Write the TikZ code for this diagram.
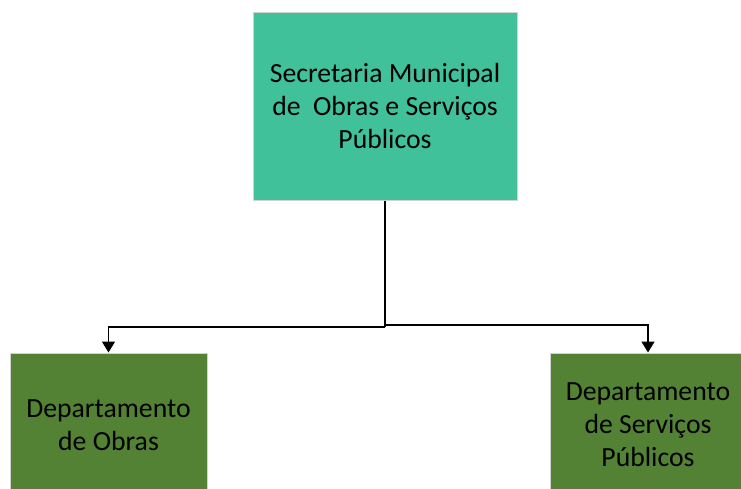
\documentclass[tikz,border=0pt]{standalone}
\usepackage{fontspec}
\setmainfont{Carlito}
\usetikzlibrary{positioning}
\usetikzlibrary{arrows.meta}

\definecolor{secgreen}{RGB}{64,193,154}
\definecolor{depgreen}{RGB}{84,130,53}

\tikzset{
	orgbox/.style={draw=gray!35, line width=1pt, align=center, inner sep=0pt,
		font=\fontsize{27.7}{33}\selectfont},
	link/.style={line width=1.5pt},
	arrowlink/.style={link, -{Triangle[width=13pt,length=11pt]}}
}

\begin{document}
\begin{tikzpicture}[x=1pt,y=1pt]
				\clip (0,0) rectangle (741,-488);
				\node[orgbox, fill=secgreen, minimum width=264pt, minimum height=188pt](sec) at (385,-106) {Secretaria Municipal \\ de~ Obras e Serviços \\ Públicos};
				\node[orgbox, fill=depgreen, minimum width=197pt, minimum height=144pt, below=152pt of sec, xshift=-276.5pt](obras) {Departamento \\ de Obras};
				\node[orgbox, fill=depgreen, minimum width=196pt, minimum height=144pt, below=152pt of sec, xshift=263pt](serv) {Departamento \\ de Serviços \\ Públicos};
				\coordinate (split) at (385,-327);

				\draw[link] (sec) to (split);
				\draw[arrowlink] (split) -| (obras);
				\draw[arrowlink] ([yshift=2pt]split) -| (serv);
			\end{tikzpicture}
\end{document}
